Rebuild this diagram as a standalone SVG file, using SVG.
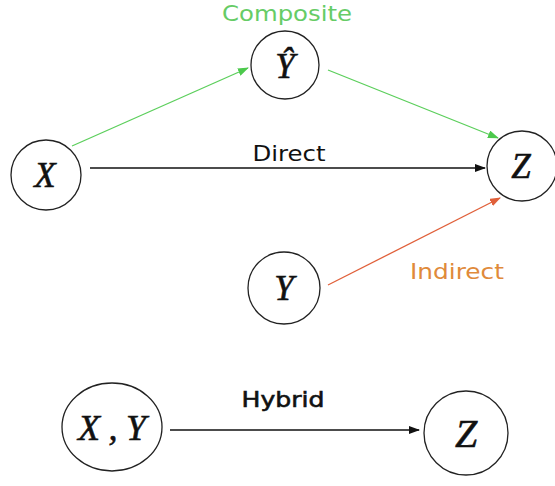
<svg xmlns="http://www.w3.org/2000/svg" width="555" height="486" viewBox="0 0 555 486">
<defs>
<style>
.node{fill:#fff;stroke:#222;stroke-width:1.3}
.var{font-family:"Liberation Serif",serif;font-style:italic;font-size:35px;fill:#111;stroke:#111;stroke-width:0.6;text-anchor:middle}
.lbl{font-family:"DejaVu Sans","Liberation Sans",sans-serif;font-size:21px;text-anchor:middle}
.edge{fill:none;stroke-width:1.3}
</style>
<marker id="ak" markerWidth="11" markerHeight="8" refX="10" refY="4" orient="auto" markerUnits="userSpaceOnUse"><path d="M0,0 L11,4 L0,8 Z" fill="#111"/></marker>
<marker id="ag" markerWidth="11" markerHeight="8" refX="10" refY="4" orient="auto" markerUnits="userSpaceOnUse"><path d="M0,0 L11,4 L0,8 Z" fill="#4cc94c"/></marker>
<marker id="ao" markerWidth="11" markerHeight="8" refX="10" refY="4" orient="auto" markerUnits="userSpaceOnUse"><path d="M0,0 L11,4 L0,8 Z" fill="#e0603a"/></marker>
</defs>
<rect width="555" height="486" fill="#fff"/>
<g id="connectors">
<line class="edge" x1="72" y1="146" x2="248" y2="68" stroke="#5ccf5c" marker-end="url(#ag)"/>
<line class="edge" x1="328" y1="70" x2="498" y2="138" stroke="#5ccf5c" marker-end="url(#ag)"/>
<line class="edge" x1="90" y1="168" x2="485" y2="168" stroke="#111" marker-end="url(#ak)"/>
<line class="edge" x1="328" y1="285" x2="500" y2="198" stroke="#e0603a" marker-end="url(#ao)"/>
<line class="edge" x1="170" y1="430" x2="419" y2="430" stroke="#111" marker-end="url(#ak)"/>
</g>
<g id="labels">
<text class="lbl" x="287" y="21" fill="#66cc66" textLength="130" lengthAdjust="spacingAndGlyphs">Composite</text>
<text class="lbl" x="289" y="161" fill="#111" textLength="73" lengthAdjust="spacingAndGlyphs">Direct</text>
<text class="lbl" x="457" y="279" fill="#e08a3a" textLength="94" lengthAdjust="spacingAndGlyphs">Indirect</text>
<text class="lbl" x="283" y="407" fill="#111" stroke="#111" stroke-width="0.6" textLength="83" lengthAdjust="spacingAndGlyphs">Hybrid</text>
</g>
<g id="node-yhat"><circle class="node" cx="285" cy="65" r="34"/><text class="var" x="285" y="78">Ŷ</text></g>
<g id="node-x"><circle class="node" cx="46" cy="175" r="35"/><text class="var" x="45" y="187">X</text></g>
<g id="node-z"><circle class="node" cx="522" cy="166" r="35"/><text class="var" x="521" y="178">Z</text></g>
<g id="node-y"><circle class="node" cx="284" cy="288" r="36"/><text class="var" x="284" y="300">Y</text></g>
<g id="node-xy"><ellipse class="node" cx="112" cy="427" rx="50" ry="44"/><text class="var" x="112" y="440" style="font-size:36px" textLength="68" lengthAdjust="spacing">X,Y</text></g>
<g id="node-z2"><ellipse class="node" cx="466" cy="433" rx="42" ry="42"/><text class="var" x="466" y="447" style="font-size:40px">Z</text></g>
</svg>
